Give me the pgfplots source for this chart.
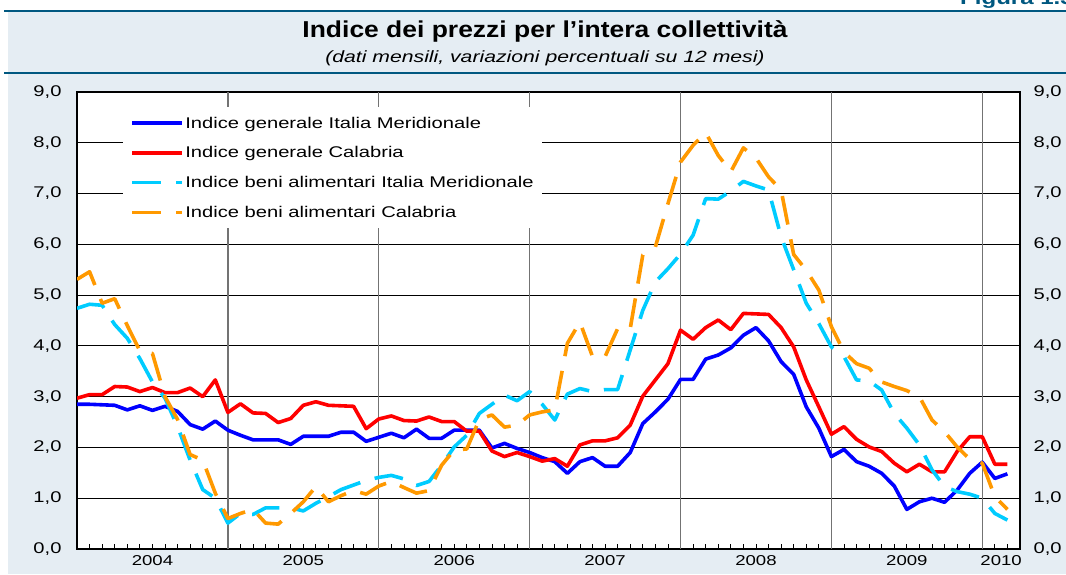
\documentclass[border=0pt]{standalone}
\usepackage{fontspec}
\setmainfont{Liberation Sans}[FakeStretch=1.3]
\newfontfamily\titlefont{Liberation Sans}[FakeStretch=1.15]
\usepackage{pgfplots}
\usepackage{pgfplotstable}
\pgfplotsset{compat=1.18}

\definecolor{bgblue}{RGB}{229,237,243}
\definecolor{rulec}{RGB}{0,88,128}
\definecolor{cblue}{RGB}{0,0,255}
\definecolor{cred}{RGB}{255,0,0}
\definecolor{ccyan}{RGB}{0,204,255}
\definecolor{corange}{RGB}{255,153,0}

\pgfplotstableread{
i blue red cyan orange
0 2.85 2.97 4.74 5.31
1 2.85 3.04 4.82 5.46
2 2.84 3.04 4.80 4.84
3 2.83 3.20 4.42 4.93
4 2.74 3.19 4.15 4.40
5 2.82 3.10 3.75 3.90
6 2.73 3.18 3.29 3.85
7 2.81 3.08 2.97 3.00
8 2.71 3.08 2.41 2.55
9 2.45 3.17 1.75 1.86
10 2.36 3.00 1.17 1.75
11 2.52 3.33 1.00 1.10
12 2.34 2.69 0.51 0.60
13 2.24 2.86 0.70 0.70
14 2.15 2.68 0.68 0.78
15 2.15 2.67 0.81 0.51
16 2.15 2.49 0.81 0.49
17 2.06 2.57 0.81 0.70
18 2.22 2.83 0.75 0.93
19 2.22 2.90 0.90 1.23
20 2.22 2.83 1.03 0.93
21 2.30 2.82 1.17 1.05
22 2.30 2.81 1.26 1.15
23 2.12 2.37 1.35 1.08
24 2.20 2.56 1.41 1.24
25 2.28 2.62 1.45 1.33
26 2.19 2.53 1.38 1.21
27 2.36 2.52 1.25 1.10
28 2.18 2.60 1.33 1.15
29 2.18 2.51 1.65 1.65
30 2.34 2.51 2.01 1.95
31 2.34 2.32 2.24 1.97
32 2.34 2.32 2.67 2.55
33 1.99 1.93 2.85 2.64
34 2.08 1.82 3.03 2.40
35 1.98 1.90 2.92 2.44
36 1.90 1.82 3.10 2.64
37 1.80 1.73 2.85 2.70
38 1.72 1.78 2.54 2.74
39 1.49 1.63 3.05 4.05
40 1.72 2.05 3.16 4.47
41 1.80 2.13 3.10 3.79
42 1.63 2.13 3.14 3.79
43 1.63 2.19 3.14 4.34
44 1.90 2.44 3.92 4.34
45 2.47 3.01 4.70 5.79
46 2.70 3.33 5.26 5.95
47 2.95 3.65 5.52 6.80
48 3.34 4.31 5.81 7.62
49 3.34 4.13 6.18 7.95
50 3.74 4.36 6.90 8.20
51 3.82 4.51 6.89 7.75
52 3.96 4.32 7.05 7.43
53 4.21 4.64 7.24 7.90
54 4.36 4.63 7.15 7.70
55 4.10 4.62 7.07 7.33
56 3.69 4.36 6.15 7.07
57 3.44 3.98 5.50 5.80
58 2.80 3.33 4.84 5.49
59 2.38 2.80 4.44 5.10
60 1.82 2.26 3.98 4.38
61 1.96 2.41 3.79 3.88
62 1.72 2.16 3.33 3.65
63 1.63 2.01 3.31 3.56
64 1.49 1.92 3.13 3.29
65 1.24 1.69 2.67 3.20
66 0.78 1.52 2.38 3.12
67 0.93 1.67 2.05 3.00
68 1.00 1.52 1.56 2.54
69 0.92 1.52 1.23 2.31
70 1.16 1.92 1.13 2.01
71 1.49 2.21 1.08 1.77
72 1.71 2.21 1.00 1.69
73 1.39 1.67 0.70 1.03
74 1.48 1.67 0.57 0.78
}\data

\pgfplotsset{
  commalabels/.style={
    /pgf/number format/assume math mode=true,
    /pgf/number format/fixed,
    /pgf/number format/fixed zerofill,
    /pgf/number format/precision=1,
    /pgf/number format/use comma,
  },
}

\begin{document}
\begin{tikzpicture}[x=1pt,y=1pt]
\useasboundingbox (0,0) rectangle (1066,574);
\fill[white] (0,0) rectangle (1066,574);
\fill[bgblue] (8,0) rectangle (1066,562);
\draw[rulec, line width=2.5pt] (4,562.8) -- (1066,562.8);
\draw[rulec, line width=2.5pt] (4,500.8) -- (1066,500.8);
\node[anchor=base, inner sep=0pt, font=\titlefont\bfseries\fontsize{23}{26}\selectfont] at (545,536.7) {Indice dei prezzi per l’intera collettività};
\node[anchor=base, inner sep=0pt, font=\itshape\fontsize{16.3}{19}\selectfont] at (545,511) {(dati mensili, variazioni percentuali su 12 mesi)};
\node[anchor=base west, inner sep=0pt, text=rulec, font=\bfseries\fontsize{18.5}{21}\selectfont] at (960,569.5) {Figura 1.3};

\begin{axis}[
  at={(77pt,25pt)}, anchor=south west,
  width=943pt, height=457pt, scale only axis,
  xmin=0, xmax=75, ymin=0, ymax=9,
  axis background/.style={fill=white},
  axis line style={black, line width=1.4pt},
  commalabels,
  ytick={0,1,...,9},
  yticklabel style={font=\fontsize{15.5}{18}\selectfont, xshift=-12pt},
  xtick={6,18,30,42,54,66,73.5},
  xticklabels={2004,2005,2006,2007,2008,2009,2010},
  xticklabel style={font=\fontsize{14.3}{17}\selectfont, yshift=-3pt},
  minor xtick={1,2,...,74},
  major tick length=0pt,
  minor tick length=5pt,
  tick align=inside,
  xtick pos=bottom, ytick pos=left,
  minor tick style={black, line width=0.8pt},
  ymajorgrids=true,
  major grid style={black, line width=0.8pt},
  extra x ticks={12,24,36,48,60,72},
  extra x tick labels={},
  extra x tick style={grid=major, major grid style={black!55, line width=1.4pt}},
  legend image code/.code={\draw[#1] (0pt,0pt) -- (50pt,0pt);},
  legend cell align=left,
  legend style={at={(axis description cs:0.0488,0.967)}, anchor=north west,
    draw=none, fill=white, inner xsep=7pt, inner ysep=8pt,
    font=\fontsize{15.5}{18}\selectfont, row sep=14pt,
    nodes={inner sep=1.5pt},
    /tikz/every even column/.append style={column sep=3.5pt}},
  every axis plot/.append style={line width=3.6pt, line join=round},
]
\addplot[cblue] table[x=i, y=blue] {\data};
\addlegendentry{Indice generale Italia Meridionale}
\addplot[cred] table[x=i, y=red] {\data};
\addlegendentry{Indice generale Calabria}
\addplot[ccyan, dash pattern=on 29pt off 15pt] table[x=i, y=cyan] {\data};
\addlegendentry{Indice beni alimentari Italia Meridionale}
\addplot[corange, dash pattern=on 29pt off 15pt] table[x=i, y=orange] {\data};
\addlegendentry{Indice beni alimentari Calabria}
\end{axis}

\begin{axis}[
  at={(77pt,25pt)}, anchor=south west,
  width=943pt, height=457pt, scale only axis,
  xmin=0, xmax=75, ymin=0, ymax=9,
  hide x axis,
  axis y line*=right,
  y axis line style={draw=none},
  commalabels,
  ytick={0,1,...,9},
  major tick length=0pt,
  yticklabel style={font=\fontsize{15.5}{18}\selectfont, xshift=10pt},
]
\end{axis}
\end{tikzpicture}
\end{document}
